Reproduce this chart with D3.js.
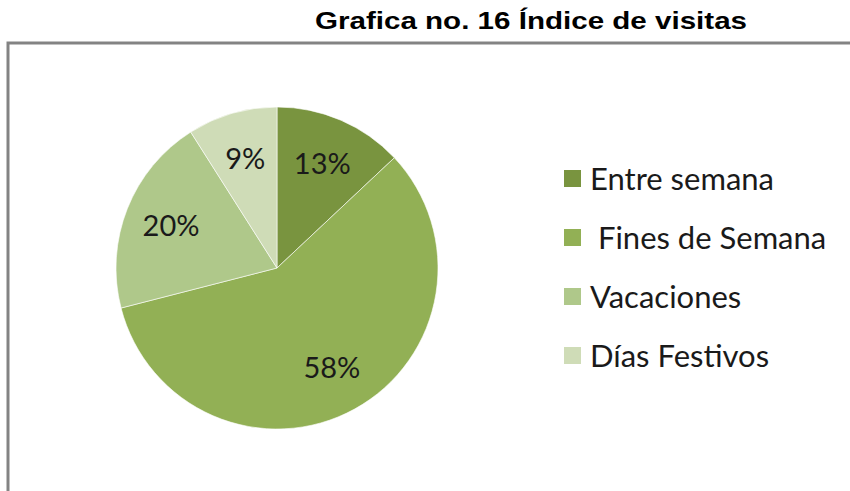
<!DOCTYPE html>
<html>
<head>
<meta charset="utf-8">
<script src="https://cdn.jsdelivr.net/npm/d3@7"></script>
<style>
  body { margin: 0; background: #fff; }
  svg { display: block; }
</style>
</head>
<body>
<div id="chart"></div>
<script>
// chart data
var categories = ["Entre semana", " Fines de Semana", "Vacaciones", "Días Festivos"];
var values = [13, 58, 20, 9];
var colors = ["#79943f", "#92b055", "#afc88a", "#cfdcb7"];
var chartTitle = "Grafica no. 16 Índice de visitas";

var W = 850, H = 491;

var svg = d3.select("#chart")
  .append("svg")
  .attr("width", W)
  .attr("height", H);

// title above the frame (the original is a bit stretched sideways)
svg.append("text")
  .attr("x", 315)
  .attr("y", 29)
  .attr("textLength", 432)
  .attr("lengthAdjust", "spacingAndGlyphs")
  .style("font-family", "'Liberation Sans', Arial, sans-serif")
  .style("font-weight", "bold")
  .style("font-size", "24px")
  .attr("fill", "#000")
  .text(chartTitle);

// gray frame (only top and left show up, the rest is off page)
svg.append("rect")
  .attr("x", 8)
  .attr("y", 43)
  .attr("width", W)
  .attr("height", H)
  .attr("fill", "none")
  .attr("stroke", "#838383")
  .attr("stroke-width", 3);

// pie
var data = categories.map(function(c, i) { return {name: c, value: values[i], color: colors[i]}; });
var pie = d3.pie().sort(null).value(function(d) { return d.value; });
var radius = 161;
var arc = d3.arc().innerRadius(0).outerRadius(radius);
var labelArc = d3.arc().innerRadius(114 * 2 - radius).outerRadius(radius); // centroid at r=114

var g = svg.append("g").attr("transform", "translate(277,268)");

g.selectAll("path")
  .data(pie(data))
  .enter()
  .append("path")
  .attr("d", arc)
  .attr("fill", function(d) { return d.data.color; })
  .attr("stroke", "#fff")
  .attr("stroke-width", 0.6);

g.selectAll(".lbl")
  .data(pie(data))
  .enter()
  .append("text")
  .attr("class", "lbl")
  .attr("transform", function(d) { return "translate(" + labelArc.centroid(d) + ")"; })
  .attr("text-anchor", "middle")
  .attr("dy", "0.36em")
  .style("font-family", "Lato, 'Open Sans', sans-serif")
  .style("font-size", "29px")
  .attr("fill", "#1a1a1a")
  .text(function(d) { return d.data.value + "%"; });

// legend
var legendY = d3.scalePoint().domain(categories).range([179, 356]);

var legend = svg.selectAll(".leg")
  .data(data)
  .enter()
  .append("g")
  .attr("class", "leg")
  .attr("transform", function(d) { return "translate(564," + legendY(d.name) + ")"; });

legend.append("rect")
  .attr("x", 0)
  .attr("y", -9)
  .attr("width", 17)
  .attr("height", 17)
  .attr("fill", function(d) { return d.color; });

legend.append("text")
  .attr("x", 26)
  .attr("dy", "0.36em")
  .attr("xml:space", "preserve")
  .style("white-space", "pre")
  .style("font-family", "Lato, 'Open Sans', sans-serif")
  .style("font-size", "31px")
  .attr("fill", "#1a1a1a")
  .text(function(d) { return d.name; });
</script>
</body>
</html>
